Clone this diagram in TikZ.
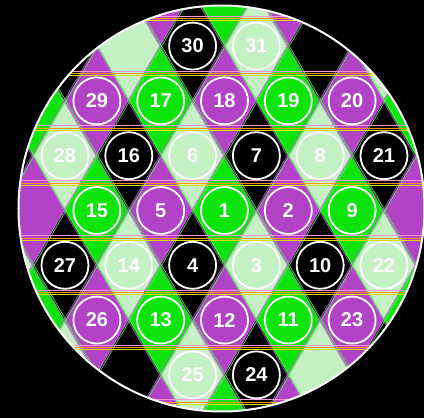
\documentclass[tikz,border=0pt]{standalone}
\usepackage{fontspec}
\newfontfamily\discfont{Liberation Sans}
\definecolor{tileGreen}{RGB}{12,228,12}
\definecolor{tilePale}{RGB}{196,240,196}
\definecolor{tilePurple}{RGB}{178,66,198}
\definecolor{lineGreen}{RGB}{60,255,60}
\definecolor{lineViolet}{RGB}{200,90,230}
\definecolor{linePink}{RGB}{255,150,210}
\definecolor{lineOrange}{RGB}{255,150,0}
\definecolor{lineYellow}{RGB}{220,220,0}
\tikzset{
  tone0/.style={fill=tileGreen},
  tone1/.style={fill=tilePale},
  tone2/.style={fill=black},
  tone3/.style={fill=tilePurple},
  edgeG/.style={draw=lineGreen, line width=0.6pt, xshift=1pt},
  edgeV/.style={draw=lineViolet, line width=0.6pt, xshift=-1pt},
  hpink/.style={draw=linePink, line width=0.7pt, yshift=2.5pt},
  horange/.style={draw=lineOrange, line width=0.8pt},
  hyellow/.style={draw=lineYellow, line width=0.7pt, yshift=-2pt},
  numdisc/.style={circle, draw=white, line width=1.8pt, minimum size=47pt,
    inner sep=0pt, text=white, font=\discfont\bfseries\fontsize{20}{20}\selectfont}
}
\begin{document}
\begin{tikzpicture}[x=31.9pt, y=-54.8pt]
\useasboundingbox[fill=black] (-224.5pt,210.5pt) rectangle (199.5pt,-207.5pt);
\coordinate (O) at (-3pt,2pt);

\begin{scope}
\clip (O) circle (203pt);
\foreach \u in {-14,-12,...,14} {
  \foreach \v in {-14,-12,...,14} {
    \pgfmathtruncatemacro{\tone}{2*Mod(\u/2,2)+Mod(\v/2,2)}
    \pgfmathsetmacro{\cc}{(\u+\v)/2}
    \pgfmathsetmacro{\rr}{(\v-\u)/2}
    \fill[tone\tone] (\cc-1,\rr) -- (\cc,\rr-1) -- (\cc+1,\rr) -- (\cc,\rr+1) -- cycle;
  }
}
\foreach \k in {-13,-11,...,13} {
  \draw[edgeG] (\k-6,-6) -- (\k+6,6);
  \draw[edgeV] (\k-6,-6) -- (\k+6,6);
  \draw[edgeG] (\k-6,6) -- (\k+6,-6);
  \draw[edgeV] (\k-6,6) -- (\k+6,-6);
}
\foreach \m in {-3.5,-2.5,...,3.5} {
  \draw[hpink] (-8,\m) -- (8,\m);
  \draw[horange] (-8,\m) -- (8,\m);
  \draw[hyellow] (-8,\m) -- (8,\m);
}
\end{scope}
\draw[white, line width=2pt] (O) circle (203pt);

\node[numdisc, fill=black] (n30) at (-1,-3) {30};
\node[numdisc, fill=tilePale] (n31) at (1,-3) {31};

\node[numdisc, fill=tilePurple] (n29) at (-4,-2) {29};
\node[numdisc, fill=tileGreen] (n17) at (-2,-2) {17};
\node[numdisc, fill=tilePurple] (n18) at (0,-2) {18};
\node[numdisc, fill=tileGreen] (n19) at (2,-2) {19};
\node[numdisc, fill=tilePurple] (n20) at (4,-2) {20};

\node[numdisc, fill=tilePale] (n28) at (-5,-1) {28};
\node[numdisc, fill=black] (n16) at (-3,-1) {16};
\node[numdisc, fill=tilePale] (n6) at (-1,-1) {6};
\node[numdisc, fill=black] (n7) at (1,-1) {7};
\node[numdisc, fill=tilePale] (n8) at (3,-1) {8};
\node[numdisc, fill=black] (n21) at (5,-1) {21};

\node[numdisc, fill=tileGreen] (n15) at (-4,0) {15};
\node[numdisc, fill=tilePurple] (n5) at (-2,0) {5};
\node[numdisc, fill=tileGreen] (n1) at (0,0) {1};
\node[numdisc, fill=tilePurple] (n2) at (2,0) {2};
\node[numdisc, fill=tileGreen] (n9) at (4,0) {9};

\node[numdisc, fill=black] (n27) at (-5,1) {27};
\node[numdisc, fill=tilePale] (n14) at (-3,1) {14};
\node[numdisc, fill=black] (n4) at (-1,1) {4};
\node[numdisc, fill=tilePale] (n3) at (1,1) {3};
\node[numdisc, fill=black] (n10) at (3,1) {10};
\node[numdisc, fill=tilePale] (n22) at (5,1) {22};

\node[numdisc, fill=tilePurple] (n26) at (-4,2) {26};
\node[numdisc, fill=tileGreen] (n13) at (-2,2) {13};
\node[numdisc, fill=tilePurple] (n12) at (0,2) {12};
\node[numdisc, fill=tileGreen] (n11) at (2,2) {11};
\node[numdisc, fill=tilePurple] (n23) at (4,2) {23};

\node[numdisc, fill=tilePale] (n25) at (-1,3) {25};
\node[numdisc, fill=black] (n24) at (1,3) {24};
\end{tikzpicture}
\end{document}
